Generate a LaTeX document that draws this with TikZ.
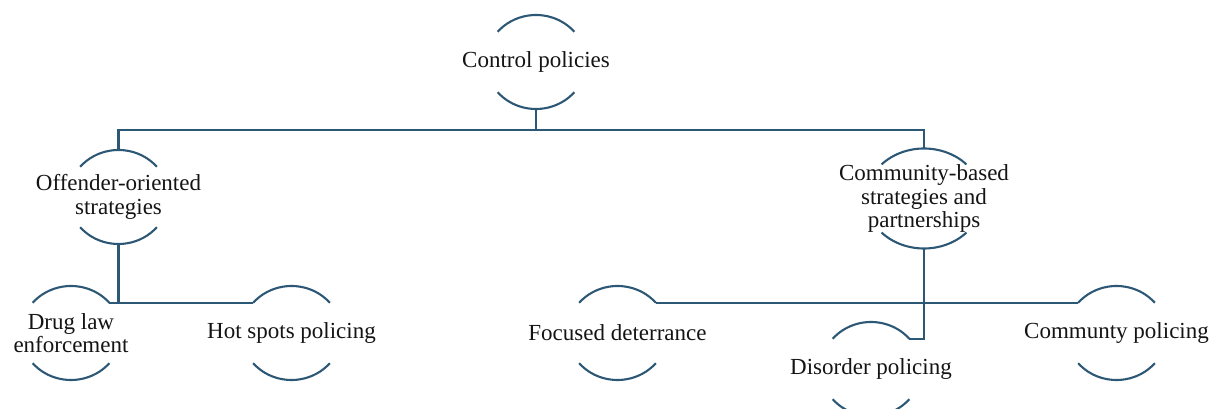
\documentclass[tikz,border=0pt]{standalone}
\usepackage{fontspec}
\setmainfont{Liberation Serif}
\usetikzlibrary{calc}
\definecolor{linkblue}{RGB}{44,88,118}
\definecolor{inktext}{RGB}{20,20,20}

% Two facing arcs (top and bottom) around a node centre.
% #1 node name, #2 x radius, #3 y radius, #4 half-opening angle
\newcommand\ringarcs[4]{%
  \draw[arcline] ($(#1)+(#4:#2 and #3)$) coordinate (#1-ne)
    arc[start angle=#4,end angle={180-#4},x radius=#2,y radius=#3] coordinate (#1-nw);
  \draw[arcline] ($(#1)+({180+#4}:#2 and #3)$) coordinate (#1-sw)
    arc[start angle={180+#4},end angle={360-#4},x radius=#2,y radius=#3] coordinate (#1-se);
  \coordinate (#1-n) at ($(#1)+(0,#3)$);
  \coordinate (#1-s) at ($(#1)+(0,-#3)$);
}

\begin{document}
\begin{tikzpicture}[x=1pt,y=1pt,
  arcline/.style={draw=linkblue,line width=2.1pt},
  link/.style={draw=linkblue,line width=2.1pt},
  label/.style={align=center,font=\fontsize{23}{23.5}\selectfont,text=inktext,inner sep=0pt}]
\useasboundingbox (0,0) rectangle (1210,409);
\clip (0,0) rectangle (1210,409);

% Labels
\node[label] (ctrl) at (536,347) {Control policies};
\node[label] (off)  at (118.5,212) {Offender-oriented\\strategies};
\node[label] (com)  at (924,210.5) {Community-based\\strategies and\\partnerships};
\node[label] (drug) at (71,76) {Drug law\\enforcement};
\node[label] (hot)  at (291.5,76) {Hot spots policing};
\node[label] (foc)  at (617.5,76) {Focused deterrance};
\node[label] (dis)  at (871,40) {Disorder policing};
\node[label] (cpol) at (1116.5,76) {Communty policing};

% Arc pairs round each label
\ringarcs{ctrl}{50pt}{47pt}{40}
\ringarcs{off}{50pt}{47pt}{40}
\ringarcs{com}{58pt}{50pt}{43}
\ringarcs{drug}{50pt}{47pt}{40}
\ringarcs{hot}{50pt}{47pt}{40}
\ringarcs{foc}{50pt}{47pt}{40}
\ringarcs{dis}{50pt}{47pt}{40}
\ringarcs{cpol}{50pt}{47pt}{40}

% Connectors
\coordinate (bus) at ($(ctrl-s)+(0,-21)$);
\draw[link] (ctrl-s) -- (bus) -| (off-n);
\draw[link] (bus) -| (com-n);
\coordinate (offbus) at (off-s |- drug-ne);
\draw[link] (off-s) -- (offbus) -- (drug-ne);
\draw[link] (offbus) -- (hot-nw);
\draw[link] (com-s) |- (dis-ne);
\draw[link] (foc-ne) -- (cpol-nw);
\end{tikzpicture}
\end{document}
